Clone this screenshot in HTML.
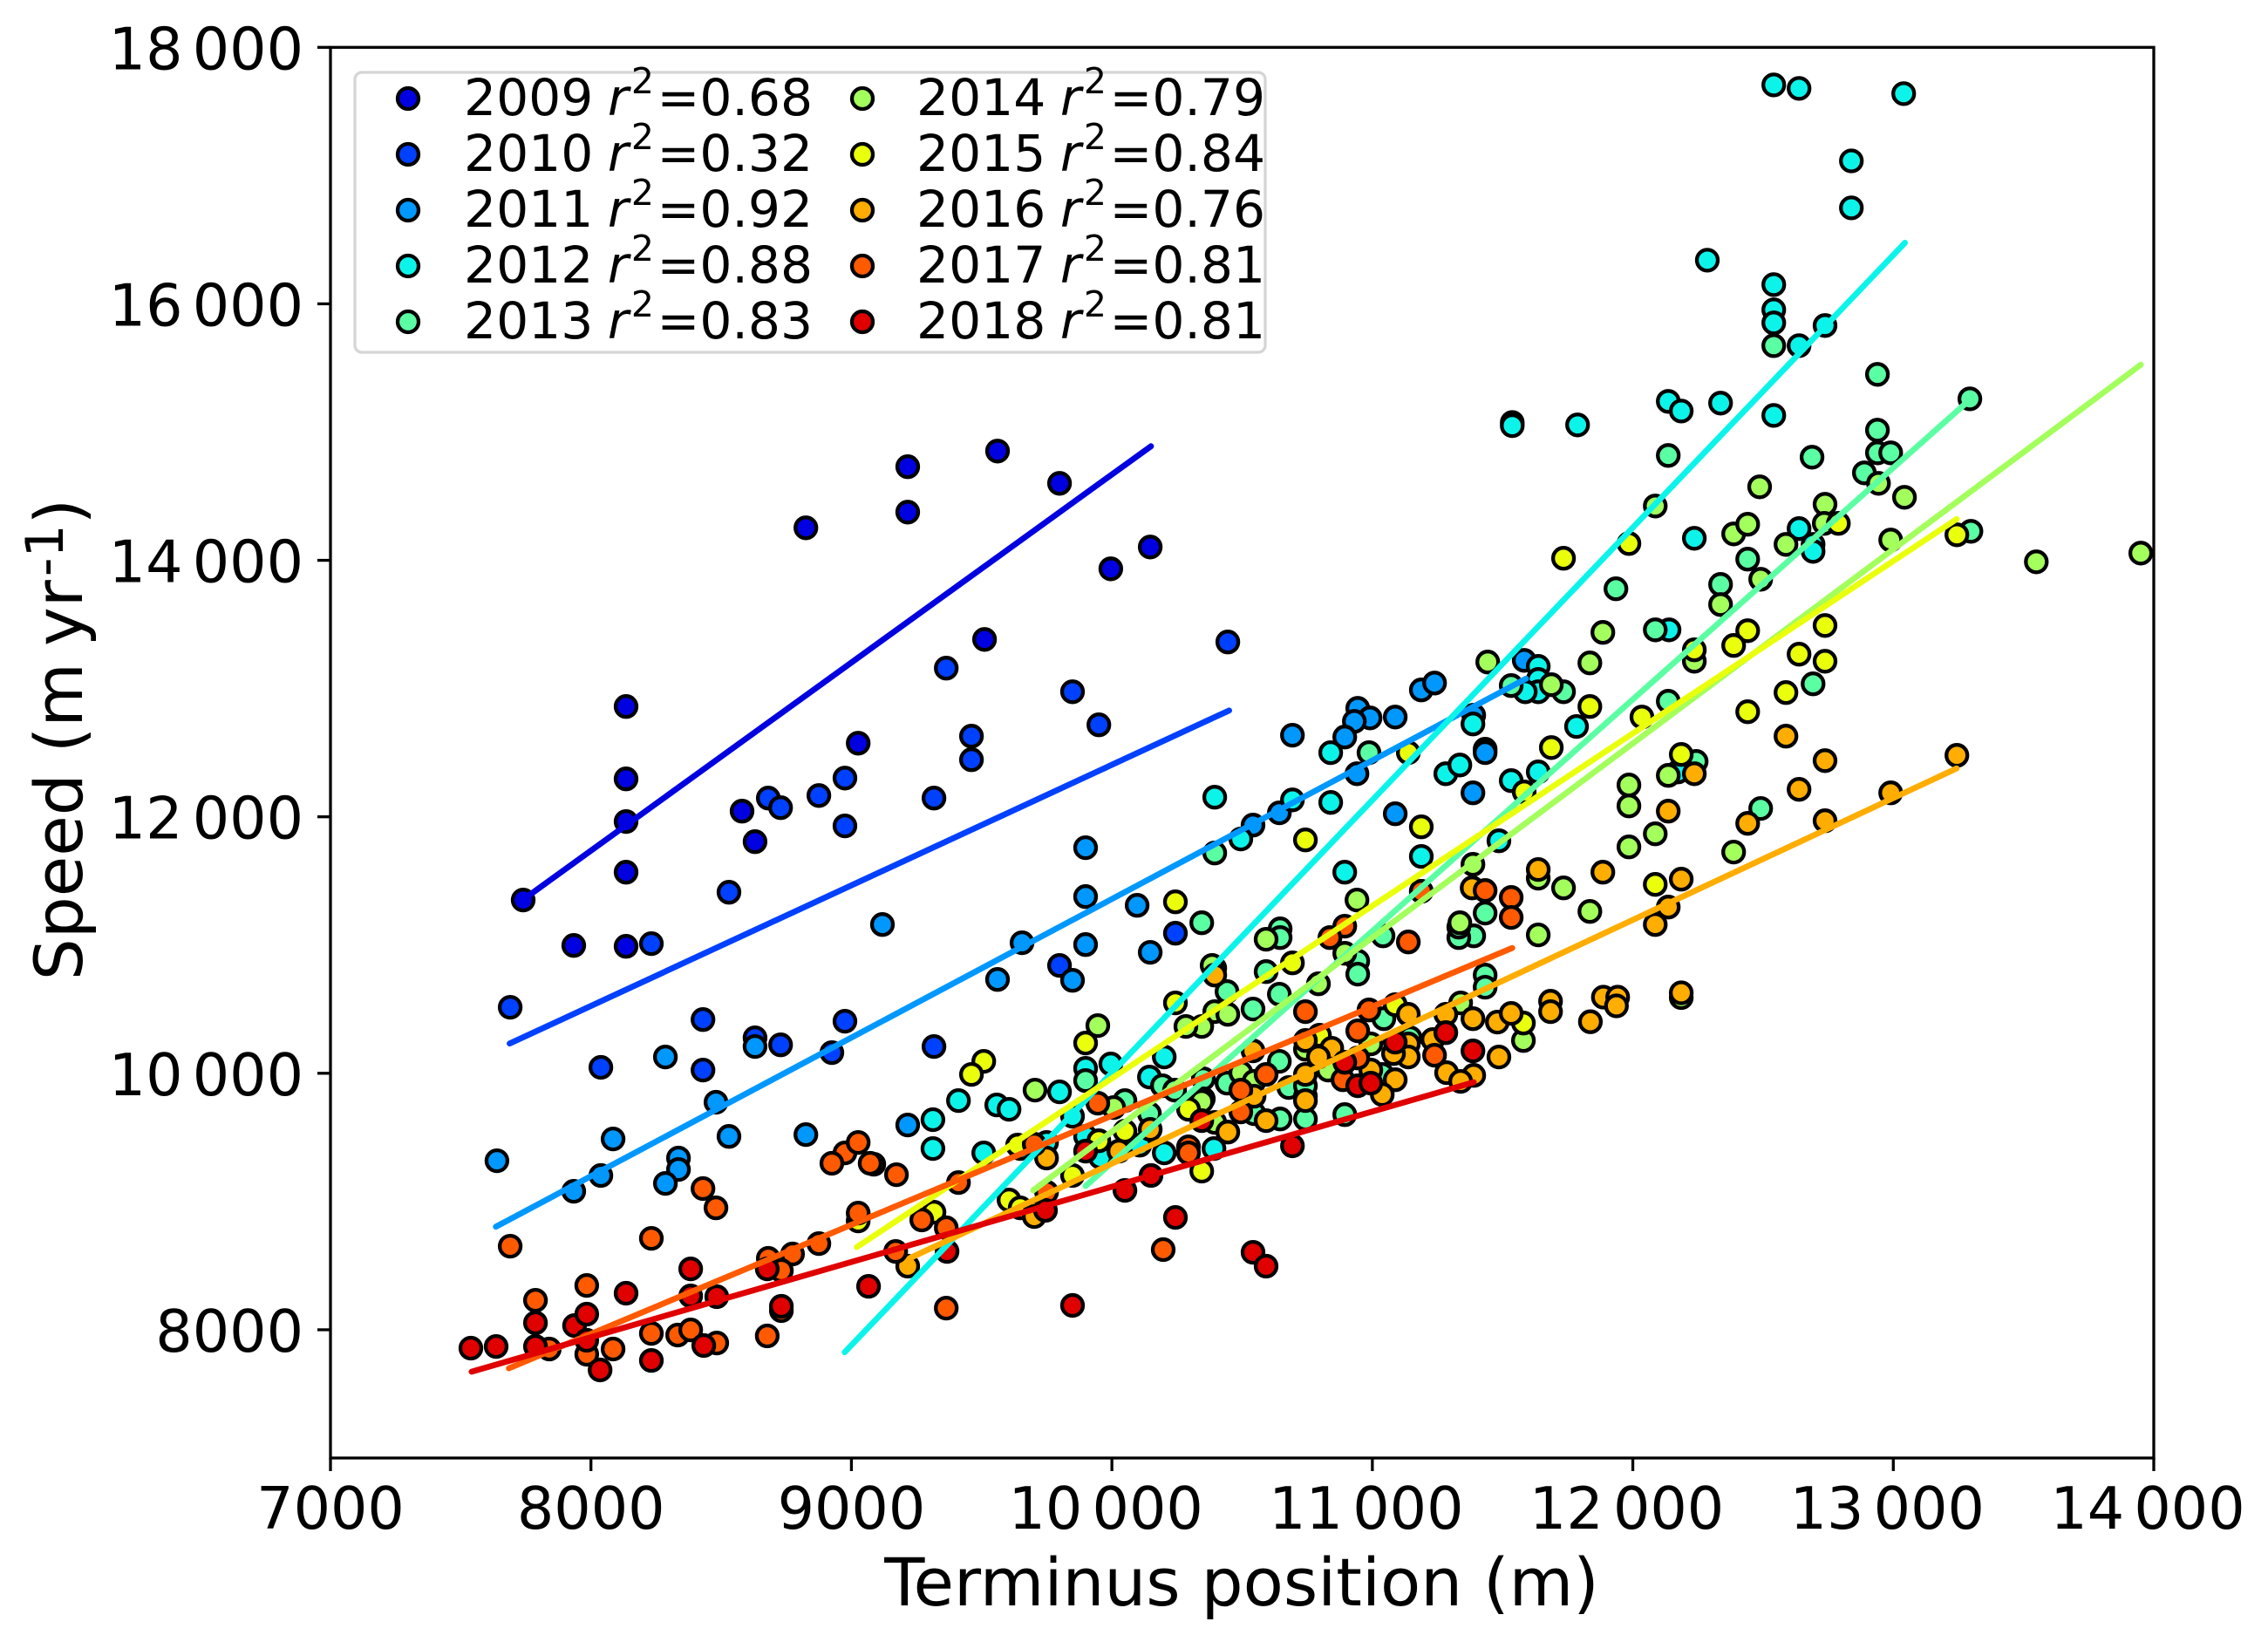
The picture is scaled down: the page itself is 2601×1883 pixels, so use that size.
<!DOCTYPE html>
<html lang="en">
<head>
<meta charset="utf-8">
<title>Speed vs terminus position</title>
<style>
html,body{margin:0;padding:0;background:#fff;width:2601px;height:1883px;overflow:hidden}
svg{display:block}
text{font-family:"DejaVu Sans","Liberation Sans",sans-serif;fill:#000}
</style>
</head>
<body>
<svg id="chart" xmlns="http://www.w3.org/2000/svg" width="2601" height="1883" viewBox="0 0 2601 1883">
  <rect x="0" y="0" width="2601" height="1883" fill="#fff"/>
  <g id="points"></g>
  <g id="fits"></g>
  <g id="ticks"></g>
  <rect x="379" y="54.3" width="2091" height="1617.7" fill="none" stroke="#000" stroke-width="3.3"/>
  <text x="1424" y="1841" font-size="75.6" text-anchor="middle">Terminus position (m)</text>
  <text transform="translate(94,848) rotate(-90)" font-size="75.6" text-anchor="middle">Speed (m<tspan font-size="60"> </tspan>yr<tspan font-size="60" dy="-22" dx="4">-</tspan><tspan font-size="60">1</tspan><tspan dy="22">)</tspan></text>
  <g>
    <rect x="407" y="83" width="1044" height="321" rx="8" ry="8" fill="#fff" stroke="#d5d5d5" stroke-width="3.3"/>
    <g font-size="58.3">
      <circle cx="468" cy="113" r="12" fill="#0000e0" stroke="#000" stroke-width="4.3"/>
      <text x="532" y="132">2009<tspan dx="-2"> </tspan><tspan font-style="italic">r</tspan><tspan font-size="41" dy="-25" dx="3">2</tspan><tspan dy="25" dx="3.5">=0.68</tspan></text>
      <circle cx="468" cy="177" r="12" fill="#0040ff" stroke="#000" stroke-width="4.3"/>
      <text x="532" y="196">2010<tspan dx="-2"> </tspan><tspan font-style="italic">r</tspan><tspan font-size="41" dy="-25" dx="3">2</tspan><tspan dy="25" dx="3.5">=0.32</tspan></text>
      <circle cx="468" cy="241" r="12" fill="#0098ff" stroke="#000" stroke-width="4.3"/>
      <text x="532" y="260">2011<tspan dx="-2"> </tspan><tspan font-style="italic">r</tspan><tspan font-size="41" dy="-25" dx="3">2</tspan><tspan dy="25" dx="3.5">=0.92</tspan></text>
      <circle cx="468" cy="305" r="12" fill="#0cf4ea" stroke="#000" stroke-width="4.3"/>
      <text x="532" y="324">2012<tspan dx="-2"> </tspan><tspan font-style="italic">r</tspan><tspan font-size="41" dy="-25" dx="3">2</tspan><tspan dy="25" dx="3.5">=0.88</tspan></text>
      <circle cx="468" cy="369" r="12" fill="#5bffa3" stroke="#000" stroke-width="4.3"/>
      <text x="532" y="388">2013<tspan dx="-2"> </tspan><tspan font-style="italic">r</tspan><tspan font-size="41" dy="-25" dx="3">2</tspan><tspan dy="25" dx="3.5">=0.83</tspan></text>
      <circle cx="989" cy="113" r="12" fill="#a3ff5b" stroke="#000" stroke-width="4.3"/>
      <text x="1051" y="132">2014<tspan dx="-2"> </tspan><tspan font-style="italic">r</tspan><tspan font-size="41" dy="-25" dx="3">2</tspan><tspan dy="25" dx="3.5">=0.79</tspan></text>
      <circle cx="989" cy="177" r="12" fill="#eaff0c" stroke="#000" stroke-width="4.3"/>
      <text x="1051" y="196">2015<tspan dx="-2"> </tspan><tspan font-style="italic">r</tspan><tspan font-size="41" dy="-25" dx="3">2</tspan><tspan dy="25" dx="3.5">=0.84</tspan></text>
      <circle cx="989" cy="241" r="12" fill="#ffad00" stroke="#000" stroke-width="4.3"/>
      <text x="1051" y="260">2016<tspan dx="-2"> </tspan><tspan font-style="italic">r</tspan><tspan font-size="41" dy="-25" dx="3">2</tspan><tspan dy="25" dx="3.5">=0.76</tspan></text>
      <circle cx="989" cy="305" r="12" fill="#ff5a00" stroke="#000" stroke-width="4.3"/>
      <text x="1051" y="324">2017<tspan dx="-2"> </tspan><tspan font-style="italic">r</tspan><tspan font-size="41" dy="-25" dx="3">2</tspan><tspan dy="25" dx="3.5">=0.81</tspan></text>
      <circle cx="989" cy="369" r="12" fill="#e00000" stroke="#000" stroke-width="4.3"/>
      <text x="1051" y="388">2018<tspan dx="-2"> </tspan><tspan font-style="italic">r</tspan><tspan font-size="41" dy="-25" dx="3">2</tspan><tspan dy="25" dx="3.5">=0.81</tspan></text>
    </g>
  </g>
</svg>
<script>
const years = [2009, 2010, 2011, 2012, 2013, 2014, 2015, 2016, 2017, 2018];
const xTickValues = [7000, 8000, 9000, 10000, 11000, 12000, 13000, 14000];
const xTickLabels = ["7000", "8000", "9000", "10 000", "11 000", "12 000", "13 000", "14 000"];
const yTickValues = [8000, 10000, 12000, 14000, 16000, 18000];
const yTickLabels = ["8000", "10 000", "12 000", "14 000", "16 000", "18 000"];

const s2009 = [[8825,14253],[9216,14730],[9216,14376],[9561,14852],[9799,14600],[9996,13934],[10147,14104],[9511,13383],[8135,12860],[8135,12296],[8135,11963],[8580,12044],[9026,12574],[8630,11806],[8135,11568],[7740,11351],[7934,10997],[8135,10990]];
const s2010 = [[9364,13159],[9849,12975],[9950,12717],[9461,12629],[9461,12445],[8975,12302],[8875,12166],[8681,12146],[8728,12071],[9317,12146],[8975,11929],[8530,11412],[8232,11011],[7690,10515],[8430,10419],[8975,10406],[8630,10277],[8728,10222],[8925,10161],[9317,10209],[8038,10046],[8430,10025],[9799,10841],[10244,11092],[10445,13363]];
const s2011 = [[9899,11759],[9899,11378],[9899,11004],[9119,11160],[9655,11018],[9561,10732],[9849,10725],[8286,10127],[8630,10209],[8480,9774],[8085,9488],[8530,9508],[8825,9522],[7639,9318],[8038,9203],[7934,9080],[8336,9339],[8336,9250],[8286,9141],[9216,9597],[10097,11310],[10147,10943],[10693,12636],[10944,12846],[10991,12771],[10931,12744],[11088,12778],[11188,12989],[11239,13043],[10894,12622],[10941,12336],[10542,11935],[10643,12031],[11583,13220],[11433,12527],[11433,12500],[11088,12024],[11386,12187],[11389,12792]];
const s2012 = [[12541,17707],[12638,17680],[13040,17639],[12839,17115],[12839,16748],[12286,16340],[12541,16150],[12541,15953],[12541,15851],[12638,15674],[12738,15831],[12136,15239],[12186,15164],[12337,15226],[12541,15130],[11788,15056],[11537,15075],[11537,15050],[12236,14172],[12638,14247],[12692,14124],[12692,14070],[12139,13458],[11637,13173],[11637,13071],[11637,12975],[11587,12975],[11784,12704],[11637,12350],[11533,12282],[11486,11813],[12173,12350],[10395,12153],[10693,12132],[10840,12500],[10840,12112],[10495,11827],[11386,12724],[11282,12336],[11336,12404],[11188,11691],[10894,11568],[9313,9638],[9313,9413],[9411,9787],[9558,9753],[9605,9719],[9799,9855],[9508,9379],[9899,10039],[9996,10073],[10201,10127],[10144,9971],[9849,9665],[9899,9508],[9749,9461],[9648,9413],[9956,9345],[10201,9379],[10392,9413],[10107,9440]];
const s2013 = [[12541,15674],[12939,15450],[13294,15259],[12939,15015],[12136,14818],[12688,14804],[12939,14838],[12990,14838],[12889,14682],[12441,14009],[12337,13812],[11935,13778],[12086,13458],[12692,13037],[13298,14226],[11533,13023],[11734,12975],[12136,12901],[12491,12065],[12243,12432],[10987,12500],[10395,11718],[11433,11249],[11389,11072],[11332,11058],[11332,11140],[11041,11072],[10646,11126],[10646,11058],[10345,11174],[10592,10793],[10944,10875],[10944,10773],[11433,10766],[11433,10671],[10442,10637],[10643,10617],[10542,10501],[11044,10426],[10643,10093],[11145,10277],[10743,9644],[10894,9678],[10646,9644],[10546,9685],[10679,9889],[10743,9821],[10351,9957],[10442,9923],[11038,9991],[9899,9943],[10050,9787],[10144,9685],[10194,9903],[10241,9869],[10743,9903]];
const s2014 = [[12487,14573],[12943,14600],[13043,14491],[12086,14423],[12738,14437],[12735,14288],[12387,14206],[12441,14281],[12588,14124],[12990,14158],[12491,13852],[12337,13655],[11885,13438],[11835,13200],[11443,13207],[11687,13030],[12236,13213],[11985,12248],[11985,12085],[12136,12323],[12086,11867],[11985,11765],[12387,11725],[11637,11521],[11734,11446],[11835,11262],[11637,11079],[13950,14056],[13549,13988],[10941,11351],[11386,11629],[11336,11174],[10592,11045],[10793,10698],[10395,10820],[10894,10936],[11188,11419],[10395,10481],[10345,10365],[10284,10365],[10445,10460],[11339,10549],[10994,10229],[11580,10256],[10495,10005],[10830,10025],[10546,9937],[10351,9801],[10395,9617],[9946,10372],[9705,9869],[10007,9733],[10345,9780],[10385,10841],[10743,10188],[12186,10590]];
const s2015 = [[11734,14016],[11985,14131],[12789,14288],[13244,14199],[12738,13492],[12441,13451],[12387,13336],[12236,13302],[12638,13268],[12738,13213],[12588,12969],[11835,12860],[12035,12778],[12441,12819],[11687,12540],[12186,12486],[11583,12194],[12086,11473],[11138,12500],[10743,11820],[11188,11922],[10244,11337],[10693,10861],[10244,10549],[9899,10236],[9508,10093],[9461,9991],[10294,9719],[10050,9549],[9950,9474],[9849,9203],[9605,9012],[9648,8951],[9317,8917],[9638,9440],[10797,10297],[11088,10535],[11580,10392],[10345,9237],[9026,8849]];
const s2016 = [[12588,12629],[12738,12438],[13244,12479],[12638,12214],[12236,12336],[12990,12187],[12441,11949],[12738,11969],[12136,12044],[11637,11589],[11885,11568],[12186,11514],[12136,11296],[12086,11160],[11383,11446],[10395,10766],[10542,10175],[11138,10460],[11282,10460],[11386,10426],[11480,10399],[11533,10467],[11232,10263],[11138,10229],[11138,10127],[11081,10154],[10743,10256],[10844,10195],[10793,10127],[11486,10127],[10743,9991],[10994,10025],[11088,9950],[11038,9835],[11285,10005],[11389,9984],[11339,9937],[10546,9821],[10743,9787],[10592,9631],[10445,9542],[9749,9339],[10147,9563],[9705,8917],[9216,8496],[9702,8883],[11684,10562],[11684,10481],[10027,9393],[11837,10402],[11887,10594],[11942,10594],[11937,10526],[12186,10628]];
const s2017 = [[11433,11425],[11533,11371],[11533,11215],[11138,11024],[10894,11147],[10837,11058],[11188,11419],[10743,10481],[10944,10331],[10987,10494],[11239,10141],[10944,10120],[10592,9991],[10887,9950],[10495,9869],[10495,9699],[10294,9427],[10294,9379],[9946,9767],[9702,9447],[9411,9148],[9270,8856],[9173,9209],[9086,9291],[8975,9379],[9026,9461],[8925,9298],[9072,9298],[8430,9101],[8480,8951],[8232,8713],[7690,8652],[9026,8910],[9364,8795],[8875,8672],[8774,8591],[8681,8557],[9170,8611],[10197,8625],[8731,8462],[7984,8346],[7787,8230],[8085,7850],[8232,7972],[8333,7959],[8383,7999],[8483,7897],[8677,7952],[8731,8149],[7840,7850],[7984,7809],[9364,8169],[9749,9073]];
const s2018 = [[7539,7857],[7636,7870],[7787,8054],[7787,7870],[7937,8033],[7984,8122],[7984,7918],[8035,7687],[8135,8285],[8232,7761],[8383,8475],[8383,8264],[8433,7877],[8483,8258],[8677,8475],[8731,8183],[9066,8339],[9745,8931],[9367,8611],[9849,8190],[10050,9087],[10150,9203],[10244,8876],[10542,8604],[10592,8496],[10693,9434],[10345,9631],[10894,10086],[10944,9903],[10994,9923],[11088,10243],[11282,10317],[11386,10175],[9899,9393]];

const fit2009 = [[7730, 11340], [10150, 14890]];
const fit2010 = [[7688, 10232], [10450, 12829]];
const fit2011 = [[7635, 8803], [11590, 13077]];
const fit2012 = [[8974, 7825], [13045, 16476]];
const fit2013 = [[9899, 9121], [13287, 15240]];
const fit2014 = [[9698, 9087], [13950, 15525]];
const fit2015 = [[9021, 8645], [13243, 14321]];
const fit2016 = [[9223, 8557], [13243, 12377]];
const fit2017 = [[7685, 7700], [11537, 10977]];
const fit2018 = [[7542, 7673], [11389, 9930]];

const allSeries = [s2009, s2010, s2011, s2012, s2013, s2014, s2015, s2016, s2017, s2018];
const allFits = [fit2009, fit2010, fit2011, fit2012, fit2013, fit2014, fit2015, fit2016, fit2017, fit2018];
const colors = ["#0000e0", "#0040ff", "#0098ff", "#0cf4ea", "#5bffa3", "#a3ff5b", "#eaff0c", "#ffad00", "#ff5a00", "#e00000"];

const NS = "http://www.w3.org/2000/svg";
function scaleX(v) { return 379 + (v - 7000) * (2470 - 379) / 7000; }
function scaleY(v) { return 1672 - (v - 7000) * (1672 - 54.3) / 11000; }

const pointsLayer = document.getElementById("points");
const fitsLayer = document.getElementById("fits");
const ticksLayer = document.getElementById("ticks");

allSeries.forEach(function (series, i) {
  series.forEach(function (p) {
    const c = document.createElementNS(NS, "circle");
    c.setAttribute("cx", scaleX(p[0]).toFixed(1));
    c.setAttribute("cy", scaleY(p[1]).toFixed(1));
    c.setAttribute("r", "12");
    c.setAttribute("fill", colors[i]);
    c.setAttribute("stroke", "#000");
    c.setAttribute("stroke-width", "4.3");
    
    
    pointsLayer.appendChild(c);
  });
});

allFits.forEach(function (fit, i) {
  const l = document.createElementNS(NS, "line");
  l.setAttribute("x1", scaleX(fit[0][0]).toFixed(1));
  l.setAttribute("y1", scaleY(fit[0][1]).toFixed(1));
  l.setAttribute("x2", scaleX(fit[1][0]).toFixed(1));
  l.setAttribute("y2", scaleY(fit[1][1]).toFixed(1));
  l.setAttribute("stroke", colors[i]);
  l.setAttribute("stroke-width", "6.8");
  l.setAttribute("stroke-linecap", "round");
  
  
  fitsLayer.appendChild(l);
});

xTickValues.forEach(function (v, i) {
  const x = scaleX(v);
  const t = document.createElementNS(NS, "line");
  t.setAttribute("x1", x);
  t.setAttribute("x2", x);
  t.setAttribute("y1", 1672);
  t.setAttribute("y2", 1687);
  t.setAttribute("stroke", "#000");
  t.setAttribute("stroke-width", "3.3");
  
  
  ticksLayer.appendChild(t);
  const label = document.createElementNS(NS, "text");
  label.setAttribute("x", xTickLabels[i].indexOf(" ") >= 0 ? x - 7 : x);
  label.setAttribute("y", 1753);
  label.setAttribute("font-size", "66.7");
  label.setAttribute("text-anchor", "middle");
  label.setAttribute("style", "word-spacing:-10px");
  
  
  label.textContent = xTickLabels[i];
  ticksLayer.appendChild(label);
});

yTickValues.forEach(function (v, i) {
  const y = scaleY(v);
  const t = document.createElementNS(NS, "line");
  t.setAttribute("x1", 364);
  t.setAttribute("x2", 379);
  t.setAttribute("y1", y);
  t.setAttribute("y2", y);
  t.setAttribute("stroke", "#000");
  t.setAttribute("stroke-width", "3.3");
  
  
  ticksLayer.appendChild(t);
  const label = document.createElementNS(NS, "text");
  label.setAttribute("x", 348);
  label.setAttribute("y", y + 25);
  label.setAttribute("font-size", "66.7");
  label.setAttribute("text-anchor", "end");
  label.setAttribute("style", "word-spacing:-10px");
  
  
  label.textContent = yTickLabels[i];
  ticksLayer.appendChild(label);
});
</script>
</body>
</html>
